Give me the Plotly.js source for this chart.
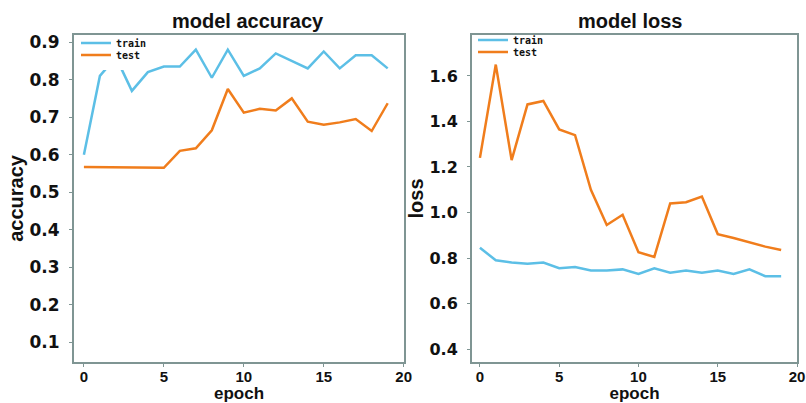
<!DOCTYPE html>
<html><head><meta charset="utf-8">
<script src="https://cdn.plot.ly/plotly-3.0.1.min.js"></script>
<style>html,body{margin:0;padding:0;background:#fff;}#chart{width:806px;height:403px;}</style>
</head><body><div id="chart"></div>
<script>
// ---- data ----
const epochs = [0,1,2,3,4,5,6,7,8,9,10,11,12,13,14,15,16,17,18,19];
const accTrain = [0.60,0.81,0.86,0.77,0.82,0.835,0.835,0.88,0.805,0.88,0.81,0.83,0.87,0.85,0.83,0.875,0.83,0.865,0.865,0.83];
const accTest  = [0.567,0.567,0.567,0.567,0.566,0.565,0.61,0.617,0.665,0.775,0.712,0.722,0.718,0.75,0.688,0.68,0.686,0.695,0.663,0.737];
const lossTrain = [0.845,0.79,0.78,0.775,0.78,0.755,0.76,0.745,0.745,0.75,0.73,0.755,0.735,0.745,0.735,0.745,0.73,0.75,0.72,0.72];
const lossTest  = [1.24,1.65,1.23,1.475,1.49,1.365,1.34,1.10,0.945,0.99,0.825,0.805,1.04,1.045,1.07,0.905,0.888,0.868,0.85,0.835];
const xTicks = [0,5,10,15,20];
const accTicks = [0.1,0.2,0.3,0.4,0.5,0.6,0.7,0.8,0.9];
const lossTicks = [0.4,0.6,0.8,1.0,1.2,1.4,1.6];
const seriesNames = ['train','test'];
const panelTitles = ['model accuracy','model loss'];
const yTitles = ['accuracy','loss'];
const xTitle = 'epoch';

// ---- style ----
const W = 806, H = 403;
const blue = '#5cbfe6', orange = '#f07d1c';
const frame = '#7f9593';
const px = v => v / W, py = v => 1 - v / H;
const yDom = [py(362), py(35)];

function xAxis(domain, range, anchor) {
  return {
    domain: domain, range: range, anchor: anchor,
    showline: true, mirror: true, linecolor: frame, linewidth: 2,
    ticks: 'outside', ticklen: 3, tickcolor: frame, tickwidth: 1,
    tickvals: xTicks, showgrid: false, zeroline: false,
    ticklabelstandoff: -3, ticklabeloverflow: 'allow',
    tickfont: {family: 'Liberation Sans', size: 15, weight: 'bold', color: '#111'},
    title: {text: xTitle, font: {family: 'Liberation Sans', size: 17, weight: 'bold', color: '#111'}, standoff: 14}
  };
}
function yAxis(domain, range, anchor, ticks, fmt, title, fs) {
  return {
    domain: domain, range: range, anchor: anchor,
    showline: true, mirror: true, linecolor: frame, linewidth: 2,
    ticks: 'outside', ticklen: 3, tickcolor: frame, tickwidth: 1,
    tickvals: ticks, tickformat: fmt, showgrid: false, zeroline: false,
    ticklabelstandoff: 6,
    tickfont: {family: 'DejaVu Sans', size: fs, weight: 'bold', color: '#111'},
    title: {text: title, font: {family: 'Liberation Sans', size: 20, weight: 'bold', color: '#111'}, standoff: 0}
  };
}

const lw = 2.5;
// test entries go in the first-drawn legends (the left one with a white box), train entries on top
const data = [
  {x: epochs, y: accTrain, name: seriesNames[0], mode: 'lines', line: {color: blue, width: lw}, xaxis: 'x', yaxis: 'y', legend: 'legend2'},
  {x: epochs, y: accTest, name: seriesNames[1], mode: 'lines', line: {color: orange, width: lw}, xaxis: 'x', yaxis: 'y', legend: 'legend'},
  {x: epochs, y: lossTrain, name: seriesNames[0], mode: 'lines', line: {color: blue, width: lw}, xaxis: 'x2', yaxis: 'y2', legend: 'legend4'},
  {x: epochs, y: lossTest, name: seriesNames[1], mode: 'lines', line: {color: orange, width: lw}, xaxis: 'x2', yaxis: 'y2', legend: 'legend3'}
];

const legendFont = {family: 'DejaVu Sans Mono', size: 10, weight: 'bold', color: '#111'};
function leg(x, yc, bg) {
  return {x: px(x), y: py(yc), xanchor: 'left', yanchor: 'middle', bgcolor: bg, borderwidth: 0, font: legendFont};
}
const layout = {
  width: W, height: H,
  margin: {l: 0, r: 0, t: 0, b: 0},
  paper_bgcolor: '#fff', plot_bgcolor: '#fff',
  showlegend: true,
  xaxis: xAxis([px(74), px(404)], [-0.62, 20.02], 'y'),
  yaxis: yAxis(yDom, [0.047, 0.919], 'x', accTicks, '.1f', yTitles[0], 17),
  xaxis2: xAxis([px(472), px(797)], [-0.5, 20.0], 'y2'),
  yaxis2: yAxis(yDom, [0.343, 1.780], 'x2', lossTicks, '.1f', yTitles[1], 16),
  legend: leg(76, 55, '#fff'),
  legend2: leg(76, 43, 'rgba(0,0,0,0)'),
  legend3: leg(473, 52, 'rgba(0,0,0,0)'),
  legend4: leg(473, 40, 'rgba(0,0,0,0)'),
  annotations: [
    {text: panelTitles[0], x: px(248), y: py(21), xref: 'paper', yref: 'paper', showarrow: false, xanchor: 'center', yanchor: 'middle',
     font: {family: 'Liberation Sans', size: 20, weight: 'bold', color: '#111'}},
    {text: panelTitles[1], x: px(630), y: py(21), xref: 'paper', yref: 'paper', showarrow: false, xanchor: 'center', yanchor: 'middle',
     font: {family: 'Liberation Sans', size: 20, weight: 'bold', color: '#111'}}
  ]
};

Plotly.newPlot('chart', data, layout, {staticPlot: true, displayModeBar: false});
</script></body></html>
